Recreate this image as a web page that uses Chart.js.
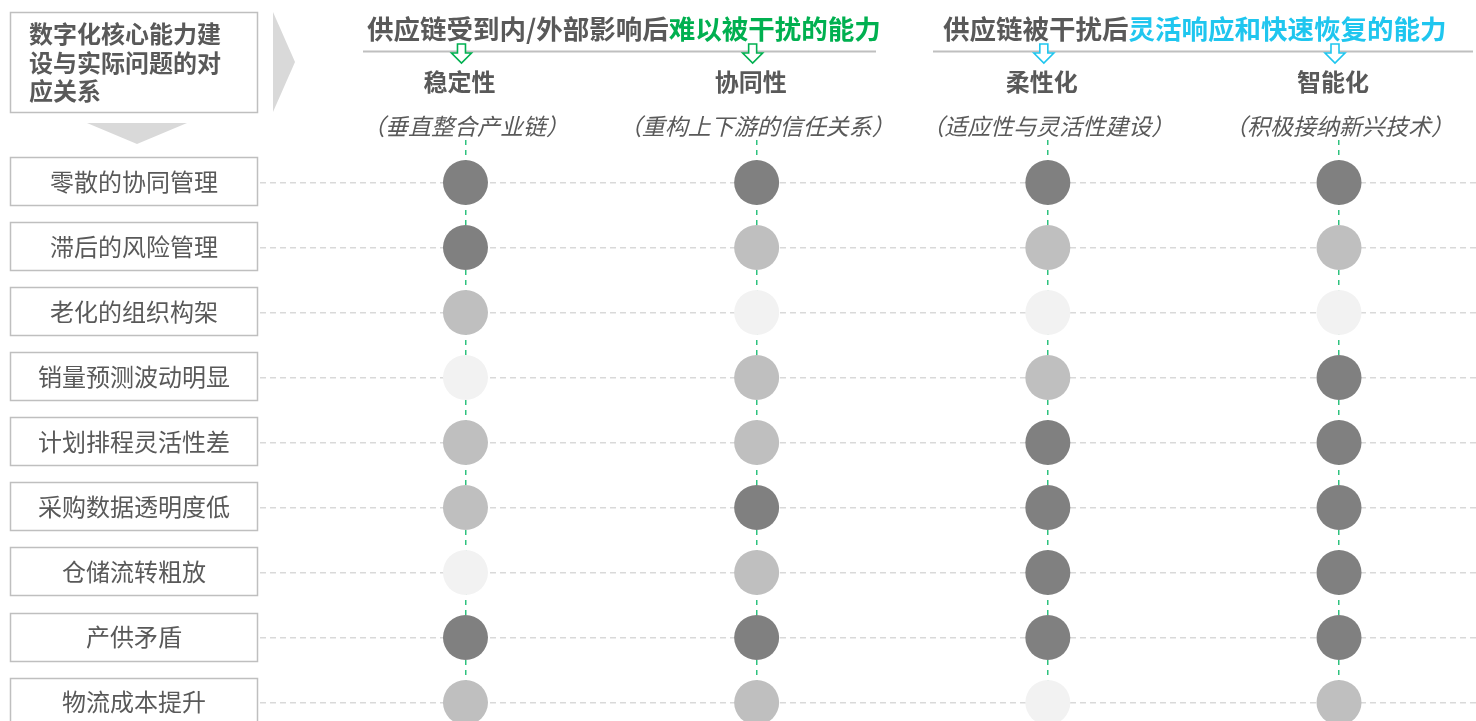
<!DOCTYPE html>
<html>
<head>
<meta charset="utf-8">
<script src="https://cdn.jsdelivr.net/npm/chart.js@4"></script>
<style>
  body { margin: 0; background: #fff; }
</style>
</head>
<body>
<canvas id="matrixChart" width="1476" height="721"></canvas>
<script>
// 行：实际问题
const problems = ['零散的协同管理', '滞后的风险管理', '老化的组织构架', '销量预测波动明显',
  '计划排程灵活性差', '采购数据透明度低', '仓储流转粗放', '产供矛盾', '物流成本提升'];

// 列：数字化核心能力
const abilities = ['稳定性', '协同性', '柔性化', '智能化'];
const abilityNotes = ['（垂直整合产业链）', '（重构上下游的信任关系）', '（适应性与灵活性建设）', '（积极接纳新兴技术）'];

// 关联程度 3=强 2=中 1=弱
const stability = [3, 3, 2, 1, 2, 2, 1, 3, 2];
const synergy = [3, 2, 1, 2, 2, 3, 2, 3, 2];
const flexibility = [3, 2, 1, 2, 3, 3, 3, 3, 1];
const intelligence = [3, 2, 1, 3, 3, 3, 3, 3, 2];

const levelColors = { 3: '#808080', 2: '#bfbfbf', 1: '#f2f2f2' };
const green = '#00b050';
const blue = '#1fc6ef';
const textGray = '#595959';
const cjk = '"Noto Sans CJK SC", "Noto Sans", sans-serif';

const allSeries = [stability, synergy, flexibility, intelligence];
const points = [];
const colors = [];
allSeries.forEach((series, col) => {
  series.forEach((v, row) => {
    points.push({ x: col, y: row });
    colors.push(levelColors[v]);
  });
});

function downArrow(ctx, cx, top, color) {
  ctx.save();
  ctx.strokeStyle = color;
  ctx.lineWidth = 1.6;
  ctx.fillStyle = '#fff';
  ctx.beginPath();
  ctx.moveTo(cx - 4, top);
  ctx.lineTo(cx + 4, top);
  ctx.lineTo(cx + 4, top + 9);
  ctx.lineTo(cx + 10, top + 9);
  ctx.lineTo(cx, top + 19);
  ctx.lineTo(cx - 10, top + 9);
  ctx.lineTo(cx - 4, top + 9);
  ctx.closePath();
  ctx.fill();
  ctx.stroke();
  ctx.restore();
}

function twoColorText(ctx, x, y, a, b, colorB) {
  ctx.textAlign = 'left';
  ctx.fillStyle = textGray;
  ctx.fillText(a, x, y);
  const w = ctx.measureText(a).width;
  ctx.fillStyle = colorB;
  ctx.fillText(b, x + w, y);
}

// 画表头、左侧标签框等装饰
const decoPlugin = {
  id: 'deco',
  afterDraw(chart) {
    const ctx = chart.ctx;
    const xs = chart.scales.x;
    const ys = chart.scales.y;
    ctx.save();
    ctx.textBaseline = 'middle';

    // 左上角说明框
    ctx.strokeStyle = '#bfbfbf';
    ctx.lineWidth = 1.5;
    ctx.strokeRect(10.5, 12.5, 247, 100);
    ctx.fillStyle = textGray;
    ctx.font = 'bold 24px ' + cjk;
    ctx.textAlign = 'left';
    ['数字化核心能力建', '设与实际问题的对', '应关系'].forEach((t, i) => {
      ctx.fillText(t, 29, 34 + i * 28.5);
    });

    // 灰色三角
    ctx.fillStyle = '#d9d9d9';
    ctx.beginPath();
    ctx.moveTo(87, 123);
    ctx.lineTo(187, 123);
    ctx.lineTo(137, 144);
    ctx.closePath();
    ctx.fill();
    ctx.beginPath();
    ctx.moveTo(273, 12);
    ctx.lineTo(295, 62);
    ctx.lineTo(273, 112);
    ctx.closePath();
    ctx.fill();

    // 顶部标题
    ctx.font = 'bold 26.5px ' + cjk;
    twoColorText(ctx, 367, 29, '供应链受到内/外部影响后', '难以被干扰的能力', green);
    twoColorText(ctx, 943, 29, '供应链被干扰后', '灵活响应和快速恢复的能力', blue);
    ctx.strokeStyle = '#bfbfbf';
    ctx.lineWidth = 2;
    ctx.beginPath();
    ctx.moveTo(363, 51.5); ctx.lineTo(876, 51.5);
    ctx.moveTo(933, 51.5); ctx.lineTo(1473, 51.5);
    ctx.stroke();

    // 列标题
    abilities.forEach((name, i) => {
      const cx = xs.getPixelForValue(i);
      downArrow(ctx, cx - 4, 44, i < 2 ? green : blue);
      ctx.textAlign = 'center';
      ctx.fillStyle = textGray;
      ctx.font = 'bold 24px ' + cjk;
      ctx.fillText(name, cx - 6, 82);
      ctx.font = 'italic 23px ' + cjk;
      ctx.fillText(abilityNotes[i], cx, 126);
    });

    // 左侧问题框
    problems.forEach((p, i) => {
      const cy = ys.getPixelForValue(i);
      ctx.strokeStyle = '#bfbfbf';
      ctx.lineWidth = 1.5;
      ctx.strokeRect(10.5, Math.round(cy - 25) + 0.5, 247, 48);
      ctx.fillStyle = textGray;
      ctx.font = '24px ' + cjk;
      ctx.textAlign = 'center';
      ctx.fillText(p, 134, cy - 1);
    });
    ctx.restore();
  }
};

new Chart(document.getElementById('matrixChart'), {
  type: 'scatter',
  data: {
    datasets: [{
      data: points,
      backgroundColor: colors,
      borderWidth: 0,
      pointRadius: 22.5,
      pointHoverRadius: 22.5,
      clip: false
    }]
  },
  options: {
    responsive: false,
    animation: false,
    events: [],
    layout: { autoPadding: false, padding: { left: 260, top: 140, right: 0, bottom: 0 } },
    plugins: { legend: { display: false }, tooltip: { enabled: false } },
    scales: {
      x: {
        type: 'linear',
        min: -0.7057,
        max: 3.4705,
        afterBuildTicks: s => { s.ticks = abilities.map((a, i) => ({ value: i })); },
        afterFit: s => { s.height = 0; },
        ticks: { display: false },
        grid: { color: '#2ec27e', lineWidth: 1.5, drawTicks: false },
        border: { display: false, dash: [5, 5] }
      },
      y: {
        type: 'linear',
        reverse: true,
        min: -0.6538,
        max: 8.2846,
        afterBuildTicks: s => { s.ticks = problems.map((p, i) => ({ value: i })); },
        afterFit: s => { s.width = 0; },
        ticks: { display: false },
        grid: { color: '#d9d9d9', lineWidth: 1.5, drawTicks: false },
        border: { display: false, dash: [6, 4] }
      }
    }
  },
  plugins: [decoPlugin]
});
</script>
</body>
</html>
